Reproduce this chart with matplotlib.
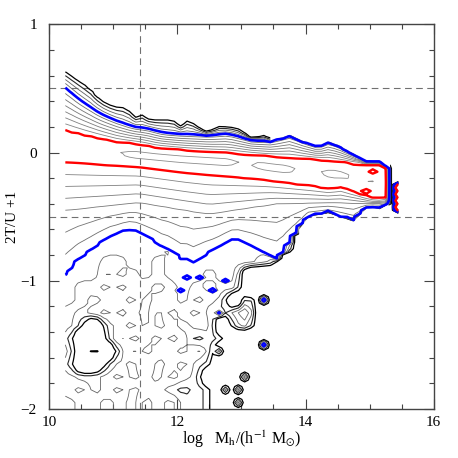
import numpy as np
import matplotlib
matplotlib.use('Agg')
import matplotlib.pyplot as plt
from matplotlib.ticker import MultipleLocator
from matplotlib.path import Path

plt.rcParams['font.family'] = ['Liberation Serif', 'DejaVu Serif']
plt.rcParams['mathtext.fontset'] = 'stix'

# ---- contour crossings (x = log M, y = 2T/U+1) ----
# outermost (level 1) upper edge
top_x = [10.25, 10.48, 10.63, 10.79, 11.0, 11.23, 11.31, 11.41, 11.57, 11.93, 12.04,
         12.17, 12.35, 12.48, 12.61, 12.8, 13.0, 13.16, 13.32, 13.47]
top_y = [0.63, 0.553, 0.50, 0.41, 0.358, 0.345, 0.254, 0.306, 0.254, 0.254, 0.202,
         0.254, 0.19, 0.15, 0.202, 0.2, 0.176, 0.098, 0.137, 0.098]
# blue contour, upper branch
bu_x = [10.25, 10.48, 10.79, 11.02, 11.31, 11.52, 11.78, 12.04, 12.5, 12.79, 13.16, 13.47,
        13.76, 13.92, 14.2, 14.36, 14.51, 14.83, 14.98, 15.19, 15.3]
bu_y = [0.508, 0.41, 0.306, 0.254, 0.202, 0.19, 0.155, 0.145, 0.137, 0.15, 0.098, 0.093,
        0.137, 0.098, 0.046, 0.085, 0.059, -0.032, -0.083, -0.083, -0.12]
# red contour, upper branch
ru_x = [10.25, 10.58, 11.07, 11.41, 11.67, 12.14, 12.79, 13.58, 14.36, 14.77, 15.16, 15.3]
ru_y = [0.176, 0.137, 0.085, 0.067, 0.041, 0.02, 0.0, -0.032, -0.058, -0.083, -0.083, -0.13]
# ridge (innermost loops)
pk_x = [10.25, 11.07, 12.0, 13.0, 13.5, 14.5, 15.0, 15.3]
pk_y = [0.05, -0.005, -0.045, -0.075, -0.115, -0.17, -0.22, -0.24]
pv_x = [10.25, 10.9, 11.07, 11.3, 12.8, 13.0, 13.1, 13.3, 13.7, 13.88, 14.05, 14.22,
        14.4, 14.6, 14.73, 14.83, 14.92, 15.0, 15.06, 15.3]
pv_v = [12.6, 12.9, 13.0, 13.4, 13.4, 12.9, 13.0, 13.4, 13.4, 13.0, 12.8, 13.0,
        13.4, 13.3, 13.0, 12.8, 13.0, 13.2, 13.0, 12.5]
# red contour, lower branch
rl_x = [10.25, 10.79, 11.41, 11.72, 12.14, 12.8, 13.32, 14.1, 14.41, 14.51, 15.09, 15.3]
rl_y = [-0.079, -0.097, -0.115, -0.135, -0.161, -0.19, -0.214, -0.266, -0.291, -0.266, -0.37, -0.36]
# middle grey contour (level 8) below the ridge
l8_x = [10.25, 11.4, 12.5, 13.5, 14.5, 15.0, 15.3]
l8_y = [-0.45, -0.39, -0.48, -0.40, -0.39, -0.40, -0.39]
# blue contour, lower branch
bl_x = [10.25, 10.43, 10.63, 10.79, 10.95, 11.1, 11.2, 11.31, 11.46, 11.67, 11.8, 11.93,
        11.99, 12.09, 12.24, 12.45, 12.61, 12.76, 12.89, 13.18, 13.39, 13.57, 13.75, 13.9,
        14.05, 14.36, 14.75, 14.98, 15.16, 15.3]
bl_y = [-0.967, -0.855, -0.777, -0.712, -0.66, -0.634, -0.609, -0.609, -0.648, -0.707,
        -0.76, -0.76, -0.876, -0.82, -0.876, -0.8, -0.76, -0.707, -0.668, -0.733, -0.8,
        -0.84, -0.70, -0.6, -0.5, -0.473, -0.538, -0.42, -0.442, -0.4]
# sparse low-mass tail: level map, columns 10.3..13.7 (step 0.2), rows -0.55 (top) .. -1.95
bottom_rows = [
    "444444444444444444",
    "444444444444444444",
    "444444443444444442",
    "44433443444444432.",
    "44424343444344....",
    "43342332343433....",
    "4323342334232.3...",
    "323423242342135...",
    "31.234243233.23...",
    "2..1423243121.....",
    "3.2.24233242......",
    "2..132423421......",
    "32234232432.......",
    "342324332121......",
    "233434234221......",
]
# isolated single-bin features (x, y, level)
spike_x = [13.35, 13.35, 13.05, 12.95, 12.95, 12.15, 12.35, 12.05, 12.55, 12.75, 12.65,
           12.75, 12.65]
spike_y = [-1.15, -1.5, -1.75, -1.85, -1.95, -0.975, -0.975, -1.075, -1.075, -1.0, -1.25,
           -1.85, -1.55]
spike_v = [6.5, 6.5, 4.5, 4.5, 4.5, 6.0, 6.0, 6.0, 6.5, 6.0, 5.4, 3.5, 3.5]
dip_x = [15.05, 14.95]
dip_y = [-0.15, -0.3]
dip_v = [11.0, 11.0]
# last mass bin
edge_y = [-0.475, -0.45, -0.425, -0.4, -0.375, -0.35, -0.325, -0.3, -0.275, -0.25, -0.225]
edge_v = [0, 14, 22, 14, 22, 14, 22, 14, 22, 14, 0]

mass_cut = 11.41
ratio_cuts = [0.5, -0.5]

# ---- build the level field ----
xs = np.round(10.25 + 0.1 * np.arange(53), 3)
ys = np.round(-2.0 + 0.025 * np.arange(109), 4)
Z = np.zeros((len(ys), len(xs)))

bottom = np.array([[-3.0 if c == '.' else int(c) + 0.5 for c in r.ljust(18, '.')[:18]]
                   for r in bottom_rows[::-1]])
bxc = 10.3 + 0.2 * np.arange(bottom.shape[1])
byc = -1.95 + 0.1 * np.arange(bottom.shape[0])
tmp = np.array([np.interp(ys, byc, bottom[:, j]) for j in range(bottom.shape[1])]).T
bfine = np.array([np.interp(xs, bxc, tmp[k]) for k in range(len(ys))])

for i, x in enumerate(xs):
    if x > 15.3:
        continue
    t1 = np.interp(x, top_x, top_y)
    bu = np.interp(x, bu_x, bu_y)
    ru = np.interp(x, ru_x, ru_y)
    pk = np.interp(x, pk_x, pk_y)
    pv = np.interp(x, pv_x, pv_v)
    rl = np.interp(x, rl_x, rl_y)
    l8 = np.interp(x, l8_x, l8_y)
    bl = np.interp(x, bl_x, bl_y)
    if x > 13.47:
        t1 = bu + 0.01
    bu = max(bu, ru + 0.01)
    t1 = max(t1, bu + 0.008)
    pk = min(max(pk, rl + 0.005), ru - 0.005)
    l8 = min(l8, rl - 0.01)
    bl = min(bl, l8 - 0.01)
    pts = [bl, l8, rl, pk, ru, bu, t1, t1 + 0.02]
    vals = [5, 8, 12, pv, 12, 5, 1, 0]
    col = np.interp(ys, pts, vals)
    below = ys < bl
    if x <= 13.76:
        col[below] = bfine[below, i]
    else:
        col[below] = 0.0
    Z[:, i] = col
Z = np.maximum(Z, 0.0)

for y, v in zip(edge_y, edge_v):
    Z[int(round((y + 2.0) / 0.025)), -1] = v

for x, y, v in zip(spike_x, spike_y, spike_v):
    i = int(round((x - 10.25) / 0.1)); k = int(round((y + 2.0) / 0.025))
    Z[k, i] = max(Z[k, i], v)
    for dk in (-1, 1):
        Z[k + dk, i] = max(Z[k + dk, i], v / 2)

for x, y, v in zip(dip_x, dip_y, dip_v):
    i = int(round((x - 10.25) / 0.1)); k = int(round((y + 2.0) / 0.025))
    Z[k, i] = min(Z[k, i], v)

# ---- plot ----
fig = plt.figure(figsize=(4.58, 4.58), dpi=100)
ax = fig.add_axes([0.1077, 0.107, 0.839, 0.840])
ax.set_xlim(10, 16)
ax.set_ylim(-2, 1)

for yc in ratio_cuts:
    ax.axhline(yc, color='#707070', lw=0.8, ls=(0, (6, 4)), zorder=1)
ax.axvline(mass_cut, color='#707070', lw=0.8, ls=(0, (6, 4)), zorder=1)

# clip region for outermost levels: hide them where the blue line is the edge
cx1 = np.linspace(13.45, 15.32, 80)
cbu = np.maximum(np.interp(cx1, bu_x, bu_y), np.interp(cx1, ru_x, ru_y) + 0.01)
cx2 = np.linspace(15.3, 13.9, 60)
cbl = np.interp(cx2, bl_x, bl_y)
verts = [(9.9, 1.2), (13.45, 1.2)] + list(zip(cx1, cbu)) + [(15.32, 1.2), (16.2, 1.2),
         (16.2, -2.2), (15.3, -2.2)] + list(zip(cx2, cbl)) + [(13.9, -2.2), (9.9, -2.2), (9.9, 1.2)]
clip = Path(verts, closed=True)

outer_levels = [1, 2, 3, 4]
outer_cols = ['#000000', '#2a2a2a', '#626262', '#6a6a6a']
outer_lw = [0.9, 0.8, 0.6, 0.6]
cs_out = ax.contour(xs, ys, Z, levels=outer_levels, colors=outer_cols,
                    linewidths=outer_lw, zorder=2)
cs_out.set_clip_path(clip, transform=ax.transData)

grey_levels = [6, 7, 8, 9, 10, 11, 13]
grey_cols = ['#6e6e6e', '#747474', '#787878', '#7c7c7c', '#808080', '#848484', '#8c8c8c']
ax.contour(xs, ys, Z, levels=grey_levels, colors=grey_cols, linewidths=0.6, zorder=2)
ax.contour(xs, ys, Z, levels=[5], colors='#0000ff', linewidths=1.9, zorder=3)
ax.contour(xs, ys, Z, levels=[12], colors='#ff0000', linewidths=1.7, zorder=4)

ax.xaxis.set_major_locator(MultipleLocator(2))
ax.xaxis.set_minor_locator(MultipleLocator(0.5))
ax.yaxis.set_major_locator(MultipleLocator(1))
ax.yaxis.set_minor_locator(MultipleLocator(0.2))
ax.tick_params(which='both', direction='in', top=True, right=True, color='#444444',
               width=0.8, labelsize=11, labelcolor='black')
ax.tick_params(which='major', length=7)
ax.tick_params(which='minor', length=3.5)
ax.tick_params(axis='x', pad=5)
ax.tick_params(axis='y', pad=9)
for s in ax.spines.values():
    s.set_color('#444444')
    s.set_linewidth(1.0)

ax.set_xlabel(r'log   M$_{\rm h}$/(h$^{-1}$ M$_{\odot}$)', fontsize=11.5)
ax.xaxis.set_label_coords(0.5, -0.052)
ax.set_ylabel('2T/U +1', fontsize=11)
ax.yaxis.set_label_coords(-0.08, 0.5)

fig.savefig('out.png', dpi=100)
